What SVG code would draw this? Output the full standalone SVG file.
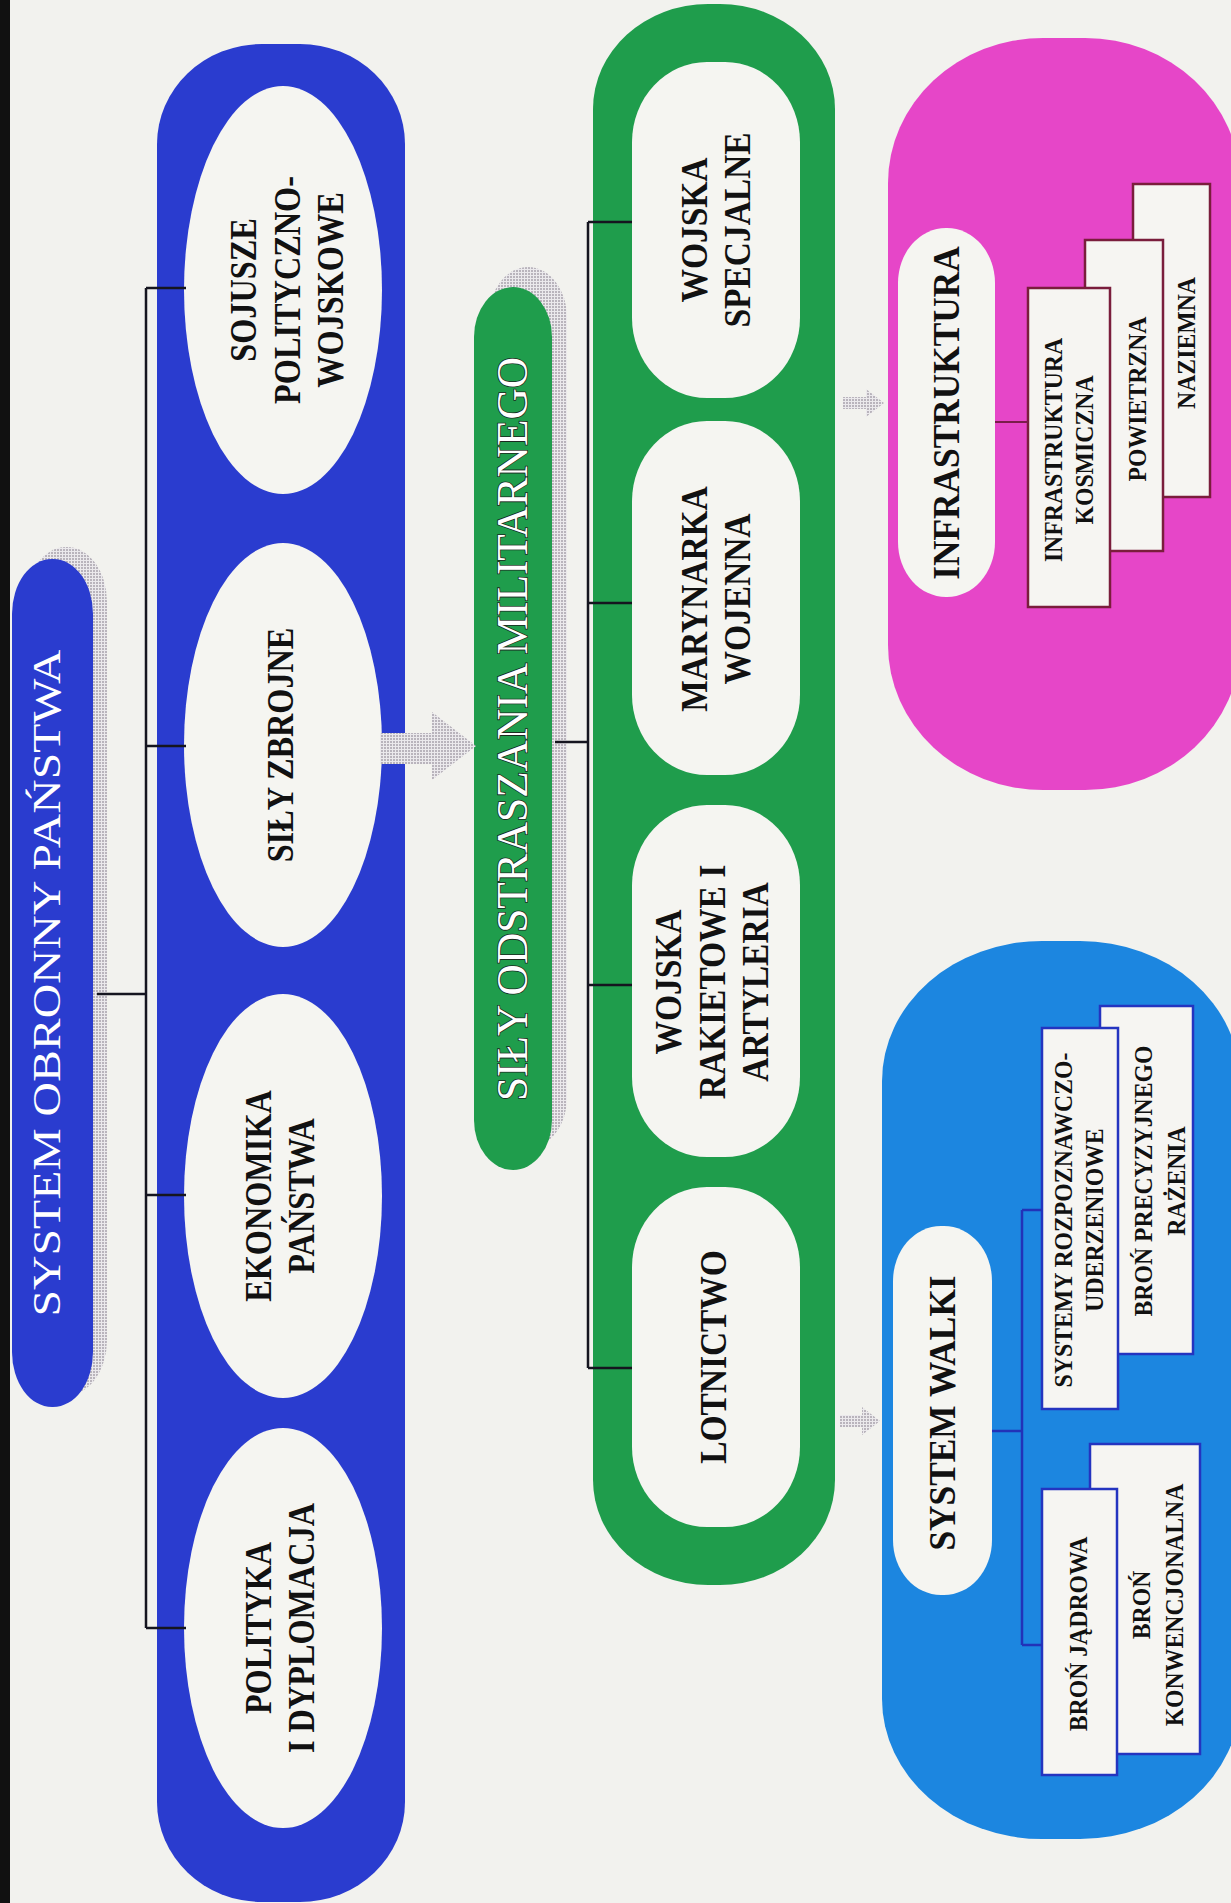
<svg xmlns="http://www.w3.org/2000/svg" width="1231" height="1903" viewBox="0 0 1231 1903">
<defs>
<pattern id="stip" width="3" height="3" patternUnits="userSpaceOnUse"><rect width="3" height="3" fill="#ebe9ec"/><rect width="2" height="2" fill="#b9b4bc"/></pattern>
<style>
.bg{fill:#f2f2ee}
.blue{fill:#2a3ccf}
.green{fill:#1f9d4c}
.mag{fill:#e646c8}
.cyan{fill:#1c86e0}
.wh{fill:#f5f5f1}
.shadow{fill:url(#stip)}
.t{font-family:"Liberation Serif","Times New Roman",serif;font-weight:bold;fill:#111;text-anchor:middle}
.big{font-size:38px}
.sm{font-size:25px}
.title1{font-family:"Liberation Serif","Times New Roman",serif;font-size:41px;fill:#fff;text-anchor:middle}
.title2{font-family:"Liberation Serif","Times New Roman",serif;font-size:44px;fill:#fff;text-anchor:middle;stroke:#1b2a1f;stroke-width:1.6;paint-order:stroke}
.cb{fill:none;stroke:#15151f;stroke-width:2.5}
.cm{fill:none;stroke:#7a1d4a;stroke-width:2.2}
.cc{fill:none;stroke:#2232b8;stroke-width:2.5}
.bm{fill:#f6f5f2;stroke:#7a1d3c;stroke-width:2.5}
.bc{fill:#f6f5f2;stroke:#2434c0;stroke-width:2.5}
</style>
</defs>
<rect class="bg" x="0" y="0" width="1231" height="1903"/>
<rect x="0" y="0" width="10" height="1903" fill="#111"/>

<!-- Title 1 -->
<g id="system-obronny">
<rect class="shadow" x="26" y="547" width="81" height="848" rx="40" ry="55"/>
<rect class="blue" x="12" y="559" width="81" height="848" rx="40" ry="55"/>
<g transform="translate(46,983) rotate(-90)"><text class="title1" x="0" y="14" textLength="667" lengthAdjust="spacingAndGlyphs">SYSTEM OBRONNY PAŃSTWA</text></g>
</g>

<!-- Blue container -->
<g id="blue-group">
<rect class="blue" x="157" y="44" width="248" height="1858" rx="105" ry="100"/>
<g id="sojusze">
<ellipse class="wh" cx="283" cy="290" rx="99" ry="204"/>
<g transform="translate(287,290) rotate(-90)"><text class="t big" transform="scale(0.85,1)"><tspan x="0" y="-31">SOJUSZE</tspan><tspan x="0" y="12.5">POLITYCZNO-</tspan><tspan x="0" y="56">WOJSKOWE</tspan></text></g>
</g>
<g id="sily-zbrojne">
<ellipse class="wh" cx="283" cy="745" rx="99" ry="202"/>
<g transform="translate(280,745) rotate(-90)"><text class="t big" transform="scale(0.85,1)"><tspan x="0" y="12.5">SIŁY ZBROJNE</tspan></text></g>
</g>
<g id="ekonomika">
<ellipse class="wh" cx="283" cy="1196" rx="99" ry="202"/>
<g transform="translate(280,1196) rotate(-90)"><text class="t big" transform="scale(0.85,1)"><tspan x="0" y="-9">EKONOMIKA</tspan><tspan x="0" y="34">PAŃSTWA</tspan></text></g>
</g>
<g id="polityka">
<ellipse class="wh" cx="283" cy="1628" rx="99" ry="200"/>
<g transform="translate(280,1628) rotate(-90)"><text class="t big" transform="scale(0.85,1)"><tspan x="0" y="-9">POLITYKA</tspan><tspan x="0" y="34">I DYPLOMACJA</tspan></text></g>
</g>
</g>

<!-- Title 2 -->
<g id="sily-odstraszania">
<rect class="shadow" x="489" y="267" width="78" height="881" rx="39" ry="50"/>
<rect class="green" x="474" y="287" width="78" height="883" rx="39" ry="50"/>
<g transform="translate(512,729) rotate(-90)"><text class="title2" x="0" y="15" textLength="744" lengthAdjust="spacingAndGlyphs">SIŁY ODSTRASZANIA MILITARNEGO</text></g>
</g>

<!-- Green container -->
<g id="green-group">
<rect class="green" x="593" y="4" width="242" height="1581" rx="115" ry="105"/>
<g id="wojska-specjalne">
<rect class="wh" x="632" y="62" width="168" height="336" rx="75" ry="80"/>
<g transform="translate(716,230) rotate(-90)"><text class="t big" transform="scale(0.88,1)"><tspan x="0" y="-9">WOJSKA</tspan><tspan x="0" y="34">SPECJALNE</tspan></text></g>
</g>
<g id="marynarka">
<rect class="wh" x="632" y="421" width="168" height="354" rx="75" ry="80"/>
<g transform="translate(716,599) rotate(-90)"><text class="t big" transform="scale(0.88,1)"><tspan x="0" y="-9">MARYNARKA</tspan><tspan x="0" y="34">WOJENNA</tspan></text></g>
</g>
<g id="rakietowe">
<rect class="wh" x="632" y="805" width="168" height="352" rx="75" ry="80"/>
<g transform="translate(712,982) rotate(-90)"><text class="t big" transform="scale(0.88,1)"><tspan x="0" y="-31">WOJSKA</tspan><tspan x="0" y="12.5">RAKIETOWE I</tspan><tspan x="0" y="56">ARTYLERIA</tspan></text></g>
</g>
<g id="lotnictwo">
<rect class="wh" x="632" y="1187" width="168" height="340" rx="75" ry="80"/>
<g transform="translate(713,1357) rotate(-90)"><text class="t big" transform="scale(0.88,1)"><tspan x="0" y="12.5">LOTNICTWO</tspan></text></g>
</g>
</g>

<!-- Magenta group -->
<g id="infrastruktura-group">
<rect class="mag" x="888" y="38" width="352" height="752" rx="155" ry="145"/>
<g id="infrastruktura">
<rect class="wh" x="898" y="228" width="97" height="369" rx="48" ry="55"/>
<g transform="translate(946,413) rotate(-90)"><text class="t big" transform="scale(0.93,1)"><tspan x="0" y="12.5">INFRASTRUKTURA</tspan></text></g>
</g>
<g id="naziemna">
<rect class="bm" x="1133" y="184" width="77" height="313"/>
<g transform="translate(1186,343) rotate(-90)"><text class="t sm" transform="scale(0.95,1)"><tspan x="0" y="8.5">NAZIEMNA</tspan></text></g>
</g>
<g id="powietrzna">
<rect class="bm" x="1085" y="240" width="78" height="311"/>
<g transform="translate(1137,399) rotate(-90)"><text class="t sm" transform="scale(0.95,1)"><tspan x="0" y="8.5">POWIETRZNA</tspan></text></g>
</g>
<g id="kosmiczna">
<rect class="bm" x="1028" y="288" width="82" height="319"/>
<g transform="translate(1069,450) rotate(-90)"><text class="t sm" transform="scale(0.95,1)"><tspan x="0" y="-7.5">INFRASTRUKTURA</tspan><tspan x="0" y="24.5">KOSMICZNA</tspan></text></g>
</g>
</g>

<!-- Cyan group -->
<g id="system-walki-group">
<rect class="cyan" x="882" y="941" width="358" height="898" rx="160" ry="140"/>
<g id="system-walki">
<rect class="wh" x="893" y="1226" width="99" height="369" rx="48" ry="55"/>
<g transform="translate(942,1413) rotate(-90)"><text class="t big" transform="scale(0.93,1)"><tspan x="0" y="12.5">SYSTEM WALKI</tspan></text></g>
</g>
<g id="bron-precyzyjnego">
<rect class="bc" x="1100" y="1006" width="93" height="348"/>
<g transform="translate(1160,1181) rotate(-90)"><text class="t sm" transform="scale(0.95,1)"><tspan x="0" y="-8.5">BROŃ PRECYZYJNEGO</tspan><tspan x="0" y="25.5">RAŻENIA</tspan></text></g>
</g>
<g id="bron-konwencjonalna">
<rect class="bc" x="1090" y="1444" width="110" height="310"/>
<g transform="translate(1158,1605) rotate(-90)"><text class="t sm" transform="scale(0.95,1)"><tspan x="0" y="-8.5">BROŃ</tspan><tspan x="0" y="25.5">KONWENCJONALNA</tspan></text></g>
</g>
<g id="systemy-rozpoznawczo">
<rect class="bc" x="1042" y="1028" width="76" height="381"/>
<g transform="translate(1079,1220) rotate(-90)"><text class="t sm" transform="scale(0.95,1)"><tspan x="0" y="-7.5">SYSTEMY ROZPOZNAWCZO-</tspan><tspan x="0" y="24.5">UDERZENIOWE</tspan></text></g>
</g>
<g id="bron-jadrowa">
<rect class="bc" x="1042" y="1489" width="75" height="286"/>
<g transform="translate(1078,1634) rotate(-90)"><text class="t sm" transform="scale(0.95,1)"><tspan x="0" y="8.5">BROŃ JĄDROWA</tspan></text></g>
</g>
</g>

<!-- Connectors -->
<g id="connectors">
<path class="cb" d="M97 994H146M146 288V1628M146 288H186M146 746H186M146 1195H186M146 1628H186"/>
<path class="cb" d="M555 742H588M588 222V1368M588 222H632M588 603H632M588 985H632M588 1368H632"/>
<path class="cm" d="M995 422H1028"/>
<path class="cc" d="M992 1431H1022M1022 1210V1645M1022 1210H1042M1022 1645H1042"/>
<polygon class="shadow" points="380,733 432,733 432,712 476,746 432,780 432,764 380,764"/>
<polygon class="shadow" points="843,397 866,397 866,389 884,403 866,417 866,409 843,409"/>
<polygon class="shadow" points="840,1415 862,1415 862,1407 880,1421 862,1435 862,1427 840,1427"/>
</g>
</svg>
